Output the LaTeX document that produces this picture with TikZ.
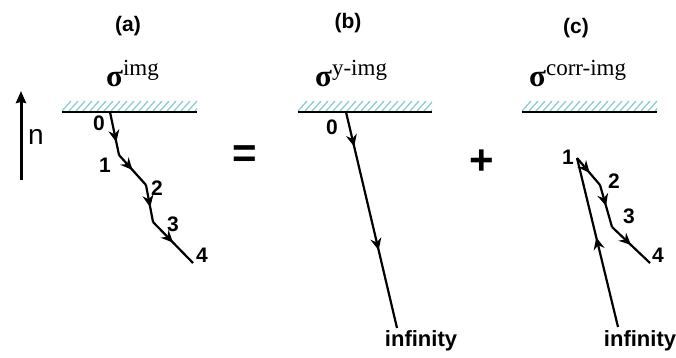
\documentclass[tikz,border=0pt]{standalone}
\usepackage{fontspec}
\setmainfont{Liberation Serif}
\setsansfont{Liberation Sans}
\usetikzlibrary{arrows.meta,decorations.markings}

\definecolor{hatchcol}{RGB}{140,205,210}

\begin{document}
\begin{tikzpicture}[x=1pt,y=-1pt,
  tag/.style={font=\sffamily\bfseries\fontsize{21}{21}\selectfont,inner sep=0},
  num/.style={font=\sffamily\bfseries\fontsize{21}{21}\selectfont,inner sep=0},
  far/.style={font=\sffamily\bfseries\fontsize{22}{22}\selectfont,inner sep=0},
  sig/.style={font=\fontsize{23}{23}\selectfont,inner sep=0,anchor=base west},
  sym/.style={font=\sffamily\bfseries\fontsize{42}{42}\selectfont,inner sep=0},
  walk/.style={line width=2.2pt},
  mid/.style={postaction={decorate,decoration={markings,
      mark=at position #1 with {\arrow{Stealth[length=12pt,width=11pt,inset=4pt]}}}}},
  mid/.default=0.55,
  surf/.style={line width=1.4pt},
  hatch/.style={hatchcol,line width=1.3pt}]

\useasboundingbox (0,0) rectangle (676,357);

% surfaces with hatching
\foreach \xa/\xb in {62/197,298/432,522/657}{
  \begin{scope}
    \clip (\xa,100) rectangle (\xb,111);
    \foreach \k in {0,...,20}
      \draw[hatch] ({\xa+7*\k},111) -- ++(9,-10);
  \end{scope}
  \draw[surf] (\xa,112) -- (\xb,112);
}

% normal vector
\coordinate (nb) at (21,180);
\coordinate (nt) at (21,91);
\draw[line width=3pt,-{Stealth[length=12pt,width=10pt,inset=1pt]}] (nb) -- (nt);
\node[font=\sffamily\fontsize{28}{28}\selectfont,inner sep=0] (nlab) at (36,137) {n};

% (a)
\node[tag] (ta) at (128,26) {(a)};
\node[sig] (siga) at (106,86) {{\fontsize{31}{31}\selectfont\textbf{σ}}\raisebox{11pt}{img}};
\coordinate (a0) at (110,112);
\coordinate (a1) at (119,155);
\coordinate (a2) at (146,185);
\coordinate (a3) at (153,222);
\coordinate (a4) at (193,263);
\draw[walk,mid=0.7] (a0) -- (a1);
\draw[walk,mid=0.5] (a1) -- (a2);
\draw[walk,mid=0.6] (a2) -- (a3);
\draw[walk,mid=0.5] (a3) -- (a4);
\node[num] (la0) at (99,123) {0};
\node[num] (la1) at (105,165) {1};
\node[num] (la2) at (157,188) {2};
\node[num] (la3) at (173,224) {3};
\node[num] (la4) at (202,255) {4};

\node[sym] (eq) at (245,157) {=};

% (b)
\node[tag] (tb) at (348,23) {(b)};
\node[sig] (sigb) at (315,86) {{\fontsize{31}{31}\selectfont\textbf{σ}}\raisebox{11pt}{y-img}};
\coordinate (b0) at (346,112);
\coordinate (binf) at (397,328);
\draw[walk,mid=0.16,mid=0.64] (b0) -- (binf);
\node[num] (lb0) at (332,127) {0};
\node[far] (lbinf) at (421,341) {infinity};

\node[sym] (plus) at (482,162) {+};

% (c)
\node[tag] (tc) at (576,28) {(c)};
\node[sig] (sigc) at (529,86) {{\fontsize{31}{31}\selectfont\textbf{σ}}\raisebox{11pt}{corr-img}};
\coordinate (c1) at (577,158);
\coordinate (c2) at (600,185);
\coordinate (c3) at (612,227);
\coordinate (c4) at (650,263);
\coordinate (cinf) at (618,327);
\draw[walk,mid=0.53] (cinf) -- (c1);
\draw[walk,mid=0.55] (c1) -- (c2);
\draw[walk,mid=0.5] (c2) -- (c3);
\draw[walk,mid=0.5] (c3) -- (c4);
\node[num] (lc1) at (568,157) {1};
\node[num] (lc2) at (614,181) {2};
\node[num] (lc3) at (629,216) {3};
\node[num] (lc4) at (658,255) {4};
\node[far] (lcinf) at (640,341) {infinity};
\end{tikzpicture}
\end{document}
